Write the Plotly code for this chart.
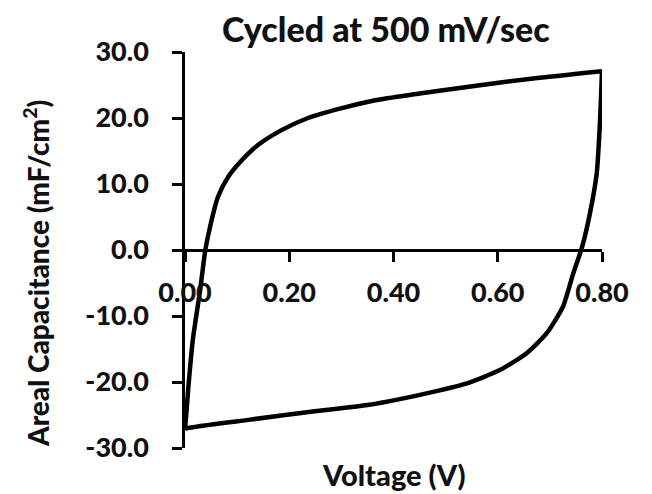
import plotly.graph_objects as go

# Cyclic voltammogram, one full cycle at 500 mV/s
# Forward (anodic) sweep, 0 -> 0.8 V
fwd_voltage = [0.002, 0.006, 0.015, 0.029, 0.039, 0.048, 0.063, 0.083, 0.109,
               0.140, 0.186, 0.236, 0.301, 0.365, 0.440, 0.541, 0.668, 0.800]
fwd_capacitance = [-25.3, -21.2, -13.6, -6.1, 0.0, 3.5, 8.0, 11.1, 13.6,
                   15.9, 18.2, 20.0, 21.5, 22.7, 23.6, 24.7, 26.0, 27.1]

# Reverse (cathodic) sweep, 0.8 -> 0 V
rev_voltage = [0.800, 0.796, 0.790, 0.777, 0.762, 0.745, 0.725, 0.694, 0.656,
               0.604, 0.541, 0.476, 0.412, 0.350, 0.253, 0.125, 0.004, 0.000]
rev_capacitance = [27.1, 19.2, 11.7, 5.6, 0.5, -3.5, -8.6, -12.6, -15.6,
                   -18.2, -20.2, -21.5, -22.6, -23.5, -24.4, -25.7, -27.0, -27.2]

x_ticks = [0.0, 0.2, 0.4, 0.6, 0.8]
x_tick_text = ["0.00", "0.20", "0.40", "0.60", "0.80"]
y_ticks = [-30, -20, -10, 0, 10, 20, 30]
y_tick_text = ["-30.0", "-20.0", "-10.0", "0.0", "10.0", "20.0", "30.0"]

FONT = "Lato"
INK = "#111111"
HEAVY = 900

fig = go.Figure()

line_style = dict(color="black", width=4.5, shape="spline", smoothing=0.6)

fig.add_trace(go.Scatter(x=fwd_voltage, y=fwd_capacitance, mode="lines",
                         line=line_style, showlegend=False, hoverinfo="skip"))
fig.add_trace(go.Scatter(x=rev_voltage, y=rev_capacitance, mode="lines",
                         line=line_style, showlegend=False, hoverinfo="skip"))
# close the loop at 0 V
fig.add_trace(go.Scatter(x=[rev_voltage[-1], fwd_voltage[0]],
                         y=[rev_capacitance[-1], fwd_capacitance[0]],
                         mode="lines", line=dict(color="black", width=4.5),
                         showlegend=False, hoverinfo="skip"))

fig.update_layout(
    width=652, height=494,
    margin=dict(l=185, r=50, t=52, b=46),
    paper_bgcolor="white", plot_bgcolor="white",
    font=dict(family=FONT, color=INK),
    xaxis=dict(
        range=[0, 0.8], anchor="free", position=0.5,
        showgrid=False, zeroline=False,
        showline=True, linecolor="black", linewidth=2.5,
        ticks="outside", ticklen=10, tickwidth=2.5, tickcolor="black",
        tickvals=x_ticks, ticktext=x_tick_text,
        tickfont=dict(family=FONT, size=27, color=INK, weight=HEAVY),
        ticklabelstandoff=8,
    ),
    yaxis=dict(
        range=[-30, 30],
        showgrid=False, zeroline=False,
        showline=True, linecolor="black", linewidth=2.5,
        ticks="outside", ticklen=10, tickwidth=2.5, tickcolor="black",
        tickvals=y_ticks, ticktext=y_tick_text,
        tickfont=dict(family=FONT, size=27, color=INK, weight=HEAVY),
        ticklabelstandoff=18,
    ),
    annotations=[
        dict(text="Cycled at 500 mV/sec", xref="paper", yref="paper",
             x=(386 - 185) / 417, y=1 + (52 - 28) / 396, showarrow=False,
             xanchor="center", yanchor="middle",
             font=dict(family=FONT, size=34, color=INK, weight=HEAVY)),
        dict(text="Voltage (V)", xref="paper", yref="paper",
             x=0.5, y=-(474 - 448) / 396, showarrow=False,
             xanchor="center", yanchor="middle",
             font=dict(family=FONT, size=29, color=INK, weight=HEAVY)),
        dict(text="Areal Capacitance (mF/cm<sup>2</sup>)",
             xref="paper", yref="paper",
             x=-(185 - 36) / 417, y=(448 - 274) / 396, showarrow=False,
             xanchor="center", yanchor="middle", textangle=-90,
             font=dict(family=FONT, size=28, color=INK, weight=HEAVY)),
    ],
)

fig.write_html("out.html", config={"displayModeBar": False})
